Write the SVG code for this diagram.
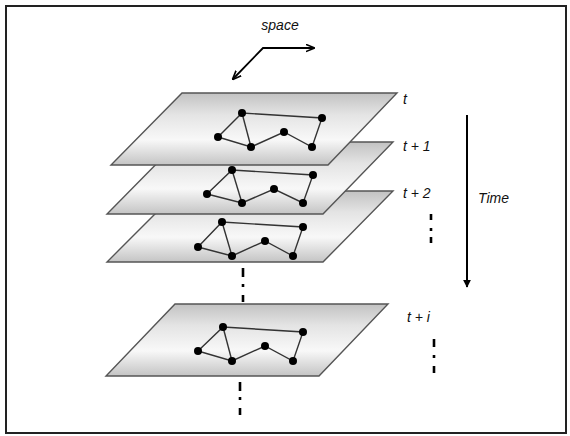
<svg xmlns="http://www.w3.org/2000/svg" width="570" height="436" viewBox="0 0 570 436">
<defs>
<linearGradient id="pg" x1="0" y1="0" x2="0" y2="1">
<stop offset="0" stop-color="#c2c2c2"/>
<stop offset="0.3" stop-color="#e4e4e4"/>
<stop offset="0.65" stop-color="#f8f8f8"/>
<stop offset="1" stop-color="#c4c4c4"/>
</linearGradient>
<marker id="ah" viewBox="0 0 10 10" refX="9" refY="5" markerWidth="4" markerHeight="4" orient="auto-start-reverse" markerUnits="strokeWidth">
<path d="M0,0 L10,5 L0,10 Z" fill="#000"/>
</marker>
<marker id="ah2" viewBox="0 0 10 10" refX="9" refY="5" markerWidth="5" markerHeight="5" orient="auto-start-reverse" markerUnits="strokeWidth">
<path d="M0,1 L10,5 L0,9" fill="none" stroke="#000" stroke-width="1.8"/>
</marker>
</defs>
<style>
.plane{fill:url(#pg);stroke:#555;stroke-width:1.4}
.edge{stroke:#333;stroke-width:1.4;fill:none}
.nd{fill:#000}
.lbl{font-family:"Liberation Sans",Arial,sans-serif;font-style:italic;font-size:14px;fill:#111}
.dash{stroke:#000;stroke-width:2.6}
</style>
<rect x="6" y="6" width="560" height="427" fill="#fff" stroke="#222" stroke-width="2"/>

<g id="plane4">
<polygon class="plane" points="175,304 388,304 319,376 106,376"/>
<g class="edge"><polyline points="198,351 223,327 303,332 293,361 265,346 232,361 198,351"/><line x1="223" y1="327" x2="232" y2="361"/></g>
<g class="nd"><circle cx="223" cy="327" r="4"/><circle cx="303" cy="332" r="4"/><circle cx="198" cy="351" r="4"/><circle cx="265" cy="346" r="4"/><circle cx="232" cy="361" r="4"/><circle cx="293" cy="361" r="4"/></g>
</g>

<g id="plane3">
<polygon class="plane" points="178,191 393,191 323,262 107,262"/>
<g class="edge"><polyline points="198,247 222,222 303,227 293,256 265,241 232,256 198,247"/><line x1="222" y1="222" x2="232" y2="256"/></g>
<g class="nd"><circle cx="222" cy="222" r="4"/><circle cx="303" cy="227" r="4"/><circle cx="198" cy="247" r="4"/><circle cx="265" cy="241" r="4"/><circle cx="232" cy="256" r="4"/><circle cx="293" cy="256" r="4"/></g>
</g>

<g id="plane2">
<polygon class="plane" points="178,142 393,142 323,214 107,214"/>
<g class="edge"><polyline points="207,194 232,170 313,175 303,203 274,189 242,203 207,194"/><line x1="232" y1="170" x2="242" y2="203"/></g>
<g class="nd"><circle cx="232" cy="170" r="4"/><circle cx="313" cy="175" r="4"/><circle cx="207" cy="194" r="4"/><circle cx="274" cy="189" r="4"/><circle cx="242" cy="203" r="4"/><circle cx="303" cy="203" r="4"/></g>
</g>

<g id="plane1">
<polygon class="plane" points="182,93 397,93 328,165 111,165"/>
<g class="edge"><polyline points="218,137 242,113 322,118 312,147 284,132 251,147 218,137"/><line x1="242" y1="113" x2="251" y2="147"/></g>
<g class="nd"><circle cx="242" cy="113" r="4"/><circle cx="322" cy="118" r="4"/><circle cx="218" cy="137" r="4"/><circle cx="284" cy="132" r="4"/><circle cx="251" cy="147" r="4"/><circle cx="312" cy="147" r="4"/></g>
</g>

<g id="connectors">
<path d="M314,48 L263,48 L233,79" fill="none" stroke="#000" stroke-width="1.8" marker-start="url(#ah2)" marker-end="url(#ah2)"/>
<line x1="467" y1="115" x2="467" y2="287" stroke="#000" stroke-width="2" marker-end="url(#ah)"/>
<g class="dash">
<line x1="243" y1="268" x2="243" y2="277"/><line x1="243" y1="284" x2="243" y2="287"/><line x1="243" y1="295" x2="243" y2="302"/>
<line x1="240" y1="382" x2="240" y2="391"/><line x1="240" y1="397" x2="240" y2="400"/><line x1="240" y1="408" x2="240" y2="415"/>
<line x1="431" y1="214" x2="431" y2="220"/><line x1="431" y1="228" x2="431" y2="231"/><line x1="431" y1="237" x2="431" y2="243"/>
<line x1="434" y1="339" x2="434" y2="347"/><line x1="434" y1="355" x2="434" y2="358"/><line x1="434" y1="366" x2="434" y2="373"/>
</g>
</g>

<g id="labels">
<text class="lbl" x="280" y="30" text-anchor="middle">space</text>
<text class="lbl" x="403" y="104">t</text>
<text class="lbl" x="403" y="151">t + 1</text>
<text class="lbl" x="403" y="198">t + 2</text>
<text class="lbl" x="407" y="322">t + i</text>
<text class="lbl" x="478" y="203">Time</text>
</g>
</svg>
